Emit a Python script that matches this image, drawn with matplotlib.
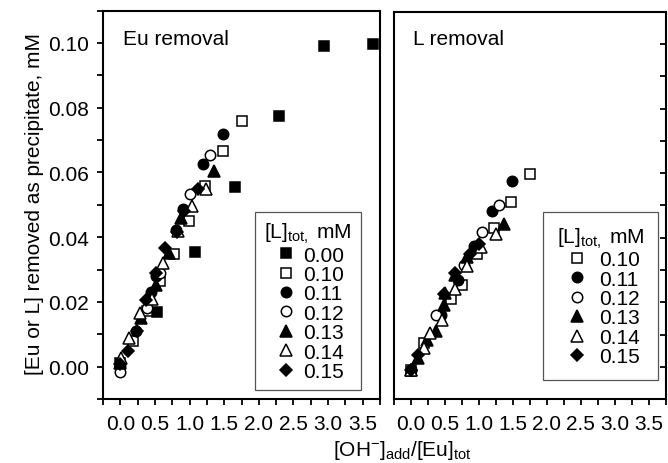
import matplotlib
matplotlib.use('Agg')
from matplotlib import pyplot as plt
from matplotlib.ticker import MultipleLocator

plt.rcParams['font.family'] = ['Liberation Sans', 'DejaVu Sans']
plt.rcParams['mathtext.fontset'] = 'custom'
plt.rcParams['mathtext.rm'] = 'Liberation Sans'
plt.rcParams['mathtext.it'] = 'Liberation Sans:italic'

# legend labels
conc_left = ['0.00', '0.10', '0.11', '0.12', '0.13', '0.14', '0.15']
conc_right = ['0.10', '0.11', '0.12', '0.13', '0.14', '0.15']

# Eu removal, x = [OH-]add/[Eu]tot, y = mM
eu_000_x = [0.00, 0.53, 1.08, 1.66, 2.29, 2.94, 3.65]
eu_000_y = [0.0012, 0.0168, 0.0353, 0.0554, 0.0774, 0.0989, 0.0996]
eu_010_x = [0.18, 0.38, 0.57, 0.77, 0.99, 1.22, 1.48, 1.75]
eu_010_y = [0.0079, 0.0171, 0.0263, 0.0347, 0.0449, 0.0559, 0.0665, 0.0759]
eu_011_x = [0.00, 0.22, 0.45, 0.52, 0.80, 0.90, 1.20, 1.49]
eu_011_y = [0.0002, 0.0111, 0.0232, 0.0280, 0.0421, 0.0486, 0.0626, 0.0719]
eu_012_x = [0.00, 0.39, 0.58, 1.01, 1.29]
eu_012_y = [-0.0018, 0.0181, 0.0288, 0.0534, 0.0655]
eu_013_x = [0.00, 0.30, 0.52, 0.70, 0.88, 1.35]
eu_013_y = [0.0010, 0.0150, 0.0252, 0.0350, 0.0459, 0.0605]
eu_014_x = [0.01, 0.13, 0.29, 0.46, 0.62, 0.83, 1.04, 1.24]
eu_014_y = [0.0028, 0.0089, 0.0166, 0.0210, 0.0319, 0.0420, 0.0495, 0.0549]
eu_015_x = [0.00, 0.11, 0.24, 0.37, 0.51, 0.65, 0.82, 0.92, 1.12]
eu_015_y = [0.0008, 0.0048, 0.0109, 0.0206, 0.0290, 0.0365, 0.0415, 0.0480, 0.0549]

# L removal
l_010_x = [0.00, 0.20, 0.59, 0.76, 0.98, 1.22, 1.48, 1.76]
l_010_y = [-0.0010, 0.0074, 0.0210, 0.0255, 0.0350, 0.0429, 0.0510, 0.0598]
l_011_x = [0.00, 0.44, 0.70, 0.93, 1.20, 1.49]
l_011_y = [-0.0010, 0.0159, 0.0270, 0.0375, 0.0483, 0.0575]
l_012_x = [0.00, 0.38, 0.78, 1.05, 1.30]
l_012_y = [-0.0010, 0.0159, 0.0316, 0.0418, 0.0503]
l_013_x = [0.00, 0.11, 0.24, 0.37, 0.49, 0.51, 0.65, 0.83, 1.37]
l_013_y = [-0.0010, 0.0028, 0.0084, 0.0110, 0.0191, 0.0230, 0.0283, 0.0340, 0.0444]
l_014_x = [0.00, 0.20, 0.29, 0.46, 0.65, 0.83, 1.03, 1.25]
l_014_y = [-0.0010, 0.0058, 0.0104, 0.0145, 0.0242, 0.0312, 0.0370, 0.0411]
l_015_x = [0.00, 0.11, 0.49, 0.66, 0.88, 1.00]
l_015_y = [-0.0010, 0.0035, 0.0227, 0.0290, 0.0350, 0.0380]

# marker styles per concentration
styles = {
    '0.00': dict(marker='s', mfc='black'),
    '0.10': dict(marker='s', mfc='white'),
    '0.11': dict(marker='o', mfc='black'),
    '0.12': dict(marker='o', mfc='white'),
    '0.13': dict(marker='^', mfc='black'),
    '0.14': dict(marker='^', mfc='white'),
    '0.15': dict(marker='D', mfc='black'),
}
sizes = {'s': 7, 'o': 7.5, '^': 8, 'D': 6.5}

left_data = [(eu_000_x, eu_000_y), (eu_010_x, eu_010_y), (eu_011_x, eu_011_y),
             (eu_012_x, eu_012_y), (eu_013_x, eu_013_y), (eu_014_x, eu_014_y),
             (eu_015_x, eu_015_y)]
right_data = [(l_010_x, l_010_y), (l_011_x, l_011_y), (l_012_x, l_012_y),
              (l_013_x, l_013_y), (l_014_x, l_014_y), (l_015_x, l_015_y)]

FS = 15

fig = plt.figure(figsize=(6.68, 4.64), dpi=100)
ax1 = fig.add_axes([103 / 668, 64 / 464, 277 / 668, 388.5 / 464])
ax2 = fig.add_axes([393.5 / 668, 64 / 464, 272.5 / 668, 387 / 464])


def draw(ax, labels, data):
    handles = []
    for lab, (xs, ys) in zip(labels, data):
        st = styles[lab]
        h, = ax.plot(xs, ys, ls='none', marker=st['marker'], mfc=st['mfc'],
                     mec='black', mew=1.1, ms=sizes[st['marker']], label=lab)
        handles.append(h)
    ax.set_xlim(-0.25, 3.75)
    ax.set_ylim(-0.01, 0.11)
    ax.xaxis.set_minor_locator(MultipleLocator(0.25))
    ax.yaxis.set_minor_locator(MultipleLocator(0.01))
    ax.set_xticks([0, 0.5, 1.0, 1.5, 2.0, 2.5, 3.0, 3.5])
    ax.set_xticklabels(['0.0', '0.5', '1.0', '1.5', '2.0', '2.5', '3.0', '3.5'])
    ax.set_yticks([0.0, 0.02, 0.04, 0.06, 0.08, 0.10])
    for sp in ax.spines.values():
        sp.set_linewidth(1.5)
    ax.tick_params(axis='both', which='both', width=1.3, labelsize=FS)
    ax.tick_params(axis='x', which='both', direction='out', length=4.5, pad=6.5)
    return handles


h1 = draw(ax1, conc_left, left_data)
ax1.tick_params(axis='y', which='both', direction='out', length=4, pad=6)
ax1.set_yticklabels(['0.00', '0.02', '0.04', '0.06', '0.08', '0.10'])

h2 = draw(ax2, conc_right, right_data)
ax2.tick_params(axis='y', which='both', direction='in', length=4,
                left=False, labelleft=False, right=True)

title = r'[L]$_{\rm tot,}$ mM'
leg_kw = dict(loc='upper left', frameon=True, fancybox=False, fontsize=FS,
              title_fontsize=FS, borderaxespad=0, labelspacing=0.02,
              edgecolor='#555555', framealpha=1)
leg1 = ax1.legend(handles=h1, title=title, bbox_to_anchor=(0.549, 0.4825),
                  borderpad=0.45, handlelength=1.3, handletextpad=0.2, **leg_kw)
leg1.get_frame().set_linewidth(0.9)
leg2 = ax2.legend(handles=h2, title=title, bbox_to_anchor=(0.549, 0.483),
                  borderpad=0.65, handlelength=1.6, handletextpad=0.28, **leg_kw)
leg2.get_frame().set_linewidth(0.9)

ax1.text(0.071, 0.913, 'Eu removal', transform=ax1.transAxes, fontsize=FS,
         va='baseline')
ax2.text(0.072, 0.918, 'L removal', transform=ax2.transAxes, fontsize=FS,
         va='baseline')

fig.text(0.051, 0.56, '[Eu or L] removed as precipitate, mM', rotation=90,
         fontsize=FS, ha='center', va='center')
fig.text(0.602, 0.030, r'[OH$^{-}$]$_{\rm add}$/[Eu]$_{\rm tot}$', fontsize=FS,
         ha='center', va='center')

fig.savefig('out.png', dpi=100)
